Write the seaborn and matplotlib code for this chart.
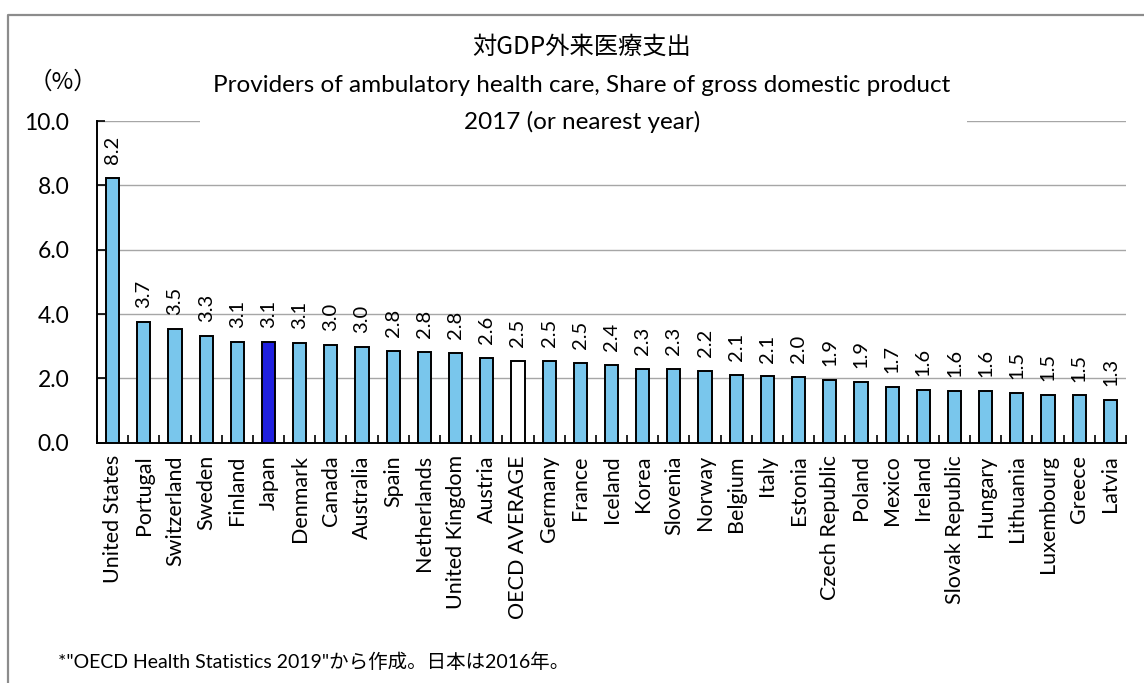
import matplotlib
matplotlib.use("Agg")
import matplotlib.pyplot as plt
import seaborn as sns
import numpy as np
from matplotlib.lines import Line2D
from matplotlib.patches import Rectangle
from matplotlib.ticker import FixedLocator

# ---------------- data ----------------
countries = ["United States", "Portugal", "Switzerland", "Sweden", "Finland", "Japan",
             "Denmark", "Canada", "Australia", "Spain", "Netherlands", "United Kingdom",
             "Austria", "OECD AVERAGE", "Germany", "France", "Iceland", "Korea",
             "Slovenia", "Norway", "Belgium", "Italy", "Estonia", "Czech Republic",
             "Poland", "Mexico", "Ireland", "Slovak Republic", "Hungary", "Lithuania",
             "Luxembourg", "Greece", "Latvia"]
values = [8.22, 3.74, 3.54, 3.31, 3.12, 3.12,
          3.11, 3.04, 2.98, 2.84, 2.82, 2.80,
          2.64, 2.54, 2.53, 2.49, 2.43, 2.30,
          2.29, 2.22, 2.11, 2.06, 2.04, 1.94,
          1.90, 1.72, 1.64, 1.62, 1.61, 1.54,
          1.48, 1.47, 1.34]
yticks = [0.0, 2.0, 4.0, 6.0, 8.0, 10.0]

title_jp = "対GDP外来医療支出"
title_en = "Providers of ambulatory health care, Share of gross domestic product"
title_yr = "2017 (or nearest year)"
unit_label = "（%）"
footnote = '*"OECD Health Statistics 2019"から作成。日本は2016年。'

# ---------------- style ----------------
sns.set_theme(style="white")
plt.rcParams['font.family'] = ['Lato', 'Noto Sans CJK JP', 'DejaVu Sans']
plt.rcParams['text.color'] = 'black'
plt.rcParams['xtick.color'] = 'black'
plt.rcParams['ytick.color'] = 'black'

base_color = "#66CCFF"
palette = {c: base_color for c in countries}
palette["Japan"] = "#0000FF"
palette["OECD AVERAGE"] = "#FFFFFF"

W, H = 1144, 683
fig = plt.figure(figsize=(W / 100, H / 100), dpi=100)
fig.patch.set_facecolor("white")

ax_l, ax_r, ax_top, ax_bot = 97, 1126, 121, 442.7
ax = fig.add_axes([ax_l / W, (H - ax_bot) / H, (ax_r - ax_l) / W, (ax_bot - ax_top) / H])

sns.barplot(x=countries, y=values, hue=countries, palette=palette, legend=False,
            width=0.42, edgecolor="black", linewidth=1.4, ax=ax, zorder=3)

ax.set_xlim(-0.5, len(countries) - 0.5)
ax.set_ylim(0, 10)
ax.yaxis.set_major_locator(FixedLocator(yticks))
ax.set_yticklabels([f"{t:.1f}" for t in yticks], fontsize=16.5, color="black")
ax.grid(axis="y", color="#A6A6A6", linewidth=1.0, zorder=0)
ax.set_axisbelow(True)
ax.grid(axis="x", visible=False)

for s in ["top", "right"]:
    ax.spines[s].set_visible(False)
for s in ["left", "bottom"]:
    ax.spines[s].set_color("black")
    ax.spines[s].set_linewidth(1.4)

ax.tick_params(axis="y", direction="in", length=6, width=1.2, color="black", pad=20,
               left=True)
ax.set_xticks(range(len(countries)))
ax.set_xticklabels(countries, rotation=90, fontsize=15.5, color="black")
ax.tick_params(axis="x", which="major", length=0, pad=9)
ax.xaxis.set_minor_locator(FixedLocator(np.arange(-0.5, len(countries), 1.0)))
ax.tick_params(axis="x", which="minor", direction="in", length=5.5, width=1.2,
               color="black", bottom=True)
ax.set_xlabel("")
ax.set_ylabel("")

for cont in ax.containers:
    ax.bar_label(cont, fmt="%.1f", rotation=90, padding=10, fontsize=14.5, color="black")

# white box behind title (hides part of top gridline)
fig.patches.append(Rectangle((200 / W, (H - 135) / H), (967 - 200) / W, 105 / H,
                             transform=fig.transFigure, facecolor="white",
                             edgecolor="none", zorder=2))

cx = 582 / W
fig.text(cx, 1 - 47 / H, title_jp, ha="center", va="center", fontsize=17.5,
         family=['Noto Sans CJK JP'], zorder=5)
fig.text(cx, 1 - 86 / H, title_en, ha="center", va="center", fontsize=17.5, zorder=5)
fig.text(cx, 1 - 122 / H, title_yr, ha="center", va="center", fontsize=17.5, zorder=5)
fig.text(63 / W, 1 - 82 / H, unit_label, ha="center", va="center", fontsize=17,
         family=['Noto Sans CJK JP'], zorder=5)
fig.text(58 / W, 1 - 662 / H, footnote, ha="left", va="center", fontsize=14,
         family=['Lato', 'Noto Sans CJK JP'], zorder=5)

# outer frame (top and left only visible)
fig.lines.append(Line2D([8 / W, 8 / W, 1.0], [0.0, 1 - 15 / H, 1 - 15 / H],
                        transform=fig.transFigure, color="#8C8C8C", linewidth=1.6))

fig.savefig("out.png", dpi=100, facecolor="white")
